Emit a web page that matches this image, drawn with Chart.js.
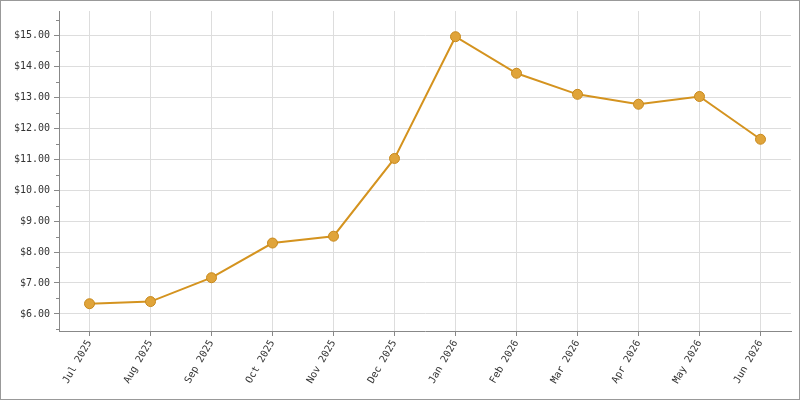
<!DOCTYPE html>
<html><head><meta charset="utf-8">
<script src="https://cdn.jsdelivr.net/npm/chart.js@4"></script>
<style>
html,body{margin:0;padding:0;background:#fff}
#wrap{width:798px;height:398px;border:1px solid #999;position:relative}
</style></head>
<body><div id="wrap"><canvas id="c" width="798" height="398"></canvas></div>
<script>
const months = ["Jul 2025","Aug 2025","Sep 2025","Oct 2025","Nov 2025","Dec 2025","Jan 2026","Feb 2026","Mar 2026","Apr 2026","May 2026","Jun 2026"];
const prices = [6.33, 6.40, 7.17, 8.29, 8.51, 11.02, 14.95, 13.77, 13.09, 12.77, 13.02, 11.64];
const yTicks = [6, 7, 8, 9, 10, 11, 12, 13, 14, 15];

const font = { family: "DejaVu Sans Mono", size: 10 };

// small ticks between the dollar marks
const minorTicks = {
  id: "minorTicks",
  afterDraw(chart) {
    const y = chart.scales.y, c = chart.ctx;
    c.save();
    c.strokeStyle = "#888";
    c.lineWidth = 1;
    for (let v = 5.5; v < 15.8; v += 0.5) {
      if (v % 1 === 0) continue;
      const py = Math.round(y.getPixelForValue(v)) + 0.5;
      c.beginPath();
      c.moveTo(y.right - 3, py);
      c.lineTo(y.right, py);
      c.stroke();
    }
    c.restore();
  }
};

new Chart(document.getElementById("c"), {
  type: "line",
  data: {
    labels: months,
    datasets: [{
      data: prices,
      borderColor: "#d4931f",
      borderWidth: 2,
      backgroundColor: "#e0a43a",
      pointBorderColor: "#c8891c",
      pointRadius: 5,
      pointBorderWidth: 1,
      tension: 0
    }]
  },
  options: {
    responsive: false,
    animation: false,
    layout: { padding: { top: 10, right: 8, left: 0, bottom: 0 } },
    plugins: { legend: { display: false }, tooltip: { enabled: false } },
    scales: {
      x: {
        offset: true,
        grid: { color: "#ddd", offset: false, tickLength: 5, tickColor: "#888" },
        border: { color: "#888" },
        ticks: { font, color: "#333", minRotation: 60, maxRotation: 60, padding: 2 },
        afterFit(s) { s.height = 68; }
      },
      y: {
        min: 5.45, max: 15.78,
        grid: { color: "#ddd", tickLength: 5, tickColor: "#888" },
        border: { color: "#888" },
        afterBuildTicks(s) { s.ticks = yTicks.map(v => ({ value: v })); },
        ticks: { font, color: "#333", padding: 4, callback: v => "$" + Number(v).toFixed(2) },
        afterFit(s) { s.width = 58; }
      }
    }
  },
  plugins: [minorTicks]
});
</script></body></html>
